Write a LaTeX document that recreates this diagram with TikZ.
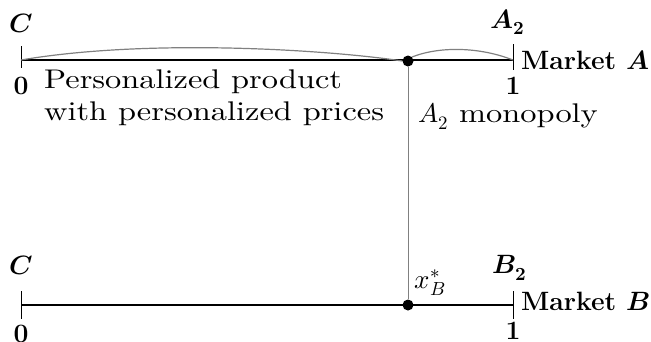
\documentclass[tikz,border=0pt]{standalone}
\usepackage{amsmath}
\usepackage{unicode-math}
\setmathfont{Latin Modern Math}
\newfontfamily\widefont{lmroman10-regular.otf}[FakeStretch=1.2]
\begin{document}
\begin{tikzpicture}[x=1pt,y=-1pt,
    lbl/.style={font=\fontsize{26.5}{32}\selectfont, inner sep=0pt},
    txt/.style={font=\fontsize{27}{32}\selectfont\widefont, inner sep=0pt},
    dot/.style={circle, fill=black, inner sep=0pt, minimum size=11pt},
    market/.style={line width=2.6pt},
    curve/.style={gray, line width=1.2pt}]
  \useasboundingbox (0,0) rectangle (651,341);
  % market A
  \coordinate (a0) at (21,60);
  \coordinate (a1) at (513,60);
  \node[dot] (pA) at (408,61) {};
  \draw[market] (a0) -- (a1);
  \draw[thick] (21,46) -- (21,68);
  \draw[thick] (513,44) -- (513,70);
  \draw[curve] (a0) .. controls (150,38) and (330,50) .. (pA.west);
  \draw[curve] (pA.north east) .. controls (440,46) and (480,47) .. (a1);
  \node[lbl] (cA) at (21,23) {$\symbfit{C}$};
  \node[lbl] (zA) at (21,86) {\textbf{0}};
  \node[lbl] (a2) at (508,22) {$\symbfit{A}_{\symbf{2}}$};
  \node[lbl] (oA) at (513,86) {\textbf{1}};
  \node[lbl, anchor=west] (mA) at (521,60) {\textbf{Market $\symbfit{A}$}};
  \node[txt, anchor=north west, align=left] (pers) at (44,70) {Personalized product\\with personalized prices};
  \node[txt, anchor=west] (mono) at (418,116) {$A_2$ monopoly};
  % market B
  \coordinate (b0) at (21,305);
  \coordinate (b1) at (513,305);
  \node[dot] (pB) at (408,305) {};
  \draw[market] (b0) -- (b1);
  \draw[thick] (21,291) -- (21,319);
  \draw[thick] (513,291) -- (513,319);
  \node[lbl] (cB) at (21,265) {$\symbfit{C}$};
  \node[lbl] (zB) at (21,334) {\textbf{0}};
  \node[lbl] (b2) at (510,268) {$\symbfit{B}_{\symbf{2}}$};
  \node[lbl] (oB) at (513,331) {\textbf{1}};
  \node[lbl, anchor=west] (mB) at (521,301) {\textbf{Market $\symbfit{B}$}};
  \node[txt] (xB) at (430,283) {$x_B^*$};
  % link
  \draw[gray, line width=1pt] (pA) -- (pB);
\end{tikzpicture}
\end{document}
